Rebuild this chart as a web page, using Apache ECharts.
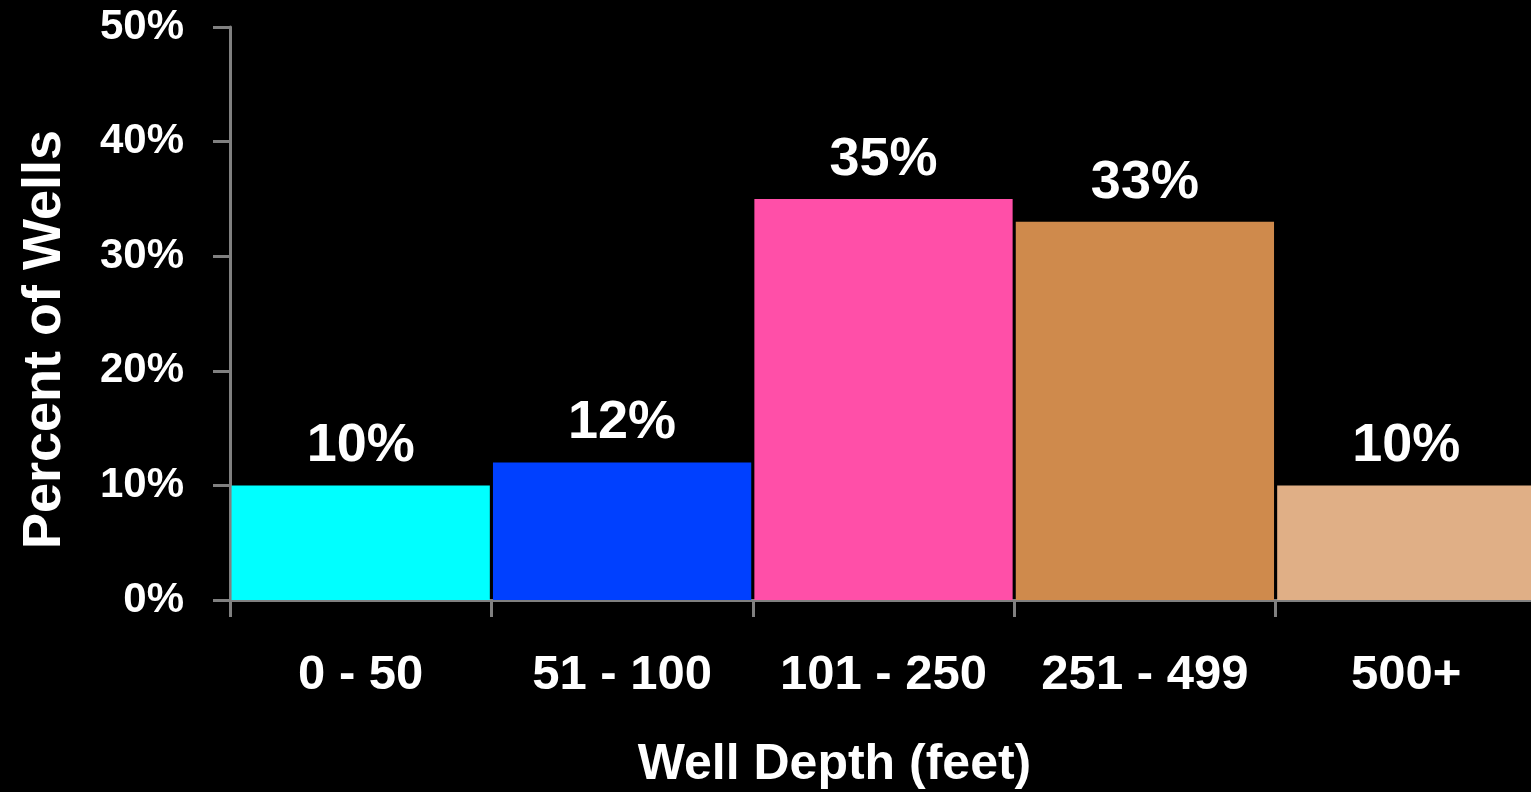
<!DOCTYPE html>
<html>
<head>
<meta charset="utf-8">
<title>Well Depth</title>
<script src="https://cdn.jsdelivr.net/npm/echarts@6/dist/echarts.min.js"></script>
<style>
  html, body { margin: 0; padding: 0; background: #000; }
  #chart { width: 1531px; height: 792px; }
</style>
</head>
<body>
<div id="chart"></div>
<script>
// Well depth ranges and share of wells in each
const categories = ['0 - 50', '51 - 100', '101 - 250', '251 - 499', '500+'];
const percents = [10, 12, 35, 33, 10];
const barColors = ['#00FFFF', '#0040FF', '#FF4FA8', '#CF8A4C', '#E0AF86'];
const yTicks = { min: 0, max: 50, interval: 10 };

const FONT = '"Liberation Sans", Arial, sans-serif';
const AXIS_GREY = '#808080';

const chart = echarts.init(document.getElementById('chart'));
chart.setOption({
  backgroundColor: '#000',
  animation: false,
  grid: {
    left: 230, top: 27, width: 1307, bottom: 192,
    containLabel: false, outerBoundsMode: 'none'
  },
  xAxis: {
    type: 'category',
    data: categories,
    name: 'Well Depth (feet)',
    nameLocation: 'middle',
    nameGap: 140,
    nameTextStyle: {
      color: '#fff', fontFamily: FONT, fontWeight: 'bold', fontSize: 50,
      padding: [0, 98, 0, 0]
    },
    axisLine: { lineStyle: { color: AXIS_GREY, width: 3 } },
    axisTick: { show: true, length: 17, lineStyle: { color: AXIS_GREY, width: 3 } },
    axisLabel: {
      interval: 0,
      color: '#fff', fontFamily: FONT, fontWeight: 'bold', fontSize: 49, margin: 51
    },
    splitLine: { show: false }
  },
  yAxis: {
    type: 'value',
    min: yTicks.min,
    max: yTicks.max,
    interval: yTicks.interval,
    name: 'Percent of Wells',
    nameLocation: 'middle',
    nameGap: 158,
    nameTextStyle: {
      color: '#fff', fontFamily: FONT, fontWeight: 'bold', fontSize: 54,
      padding: [0, 52, 0, 0]
    },
    axisLine: { show: true, lineStyle: { color: AXIS_GREY, width: 3 } },
    axisTick: { show: true, length: 17, lineStyle: { color: AXIS_GREY, width: 3 } },
    axisLabel: {
      color: '#fff', fontFamily: FONT, fontWeight: 'bold', fontSize: 42, margin: 46,
      formatter: '{value}%'
    },
    splitLine: { show: false }
  },
  series: [{
    type: 'bar',
    data: percents.map((v, i) => ({ value: v, itemStyle: { color: barColors[i] } })),
    barCategoryGap: '1.2%',
    label: {
      show: true,
      position: 'top',
      distance: 12,
      color: '#fff',
      fontFamily: FONT,
      fontWeight: 'bold',
      fontSize: 54,
      formatter: '{c}%'
    }
  }]
});
</script>
</body>
</html>
